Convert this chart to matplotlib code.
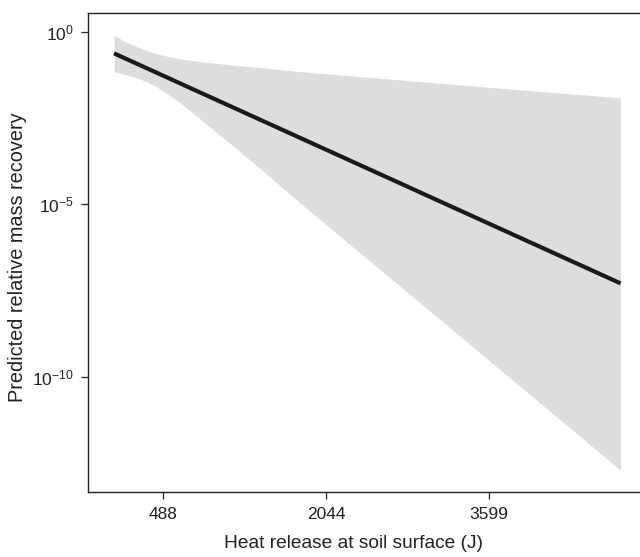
import matplotlib
matplotlib.use("Agg")
import matplotlib.pyplot as plt
import numpy as np
from matplotlib.ticker import FixedLocator, LogFormatterMathtext, NullLocator

plt.rcParams["font.family"] = ["Liberation Sans", "DejaVu Sans"]
plt.rcParams["mathtext.fontset"] = "custom"
plt.rcParams["mathtext.rm"] = "Liberation Sans"
plt.rcParams["mathtext.it"] = "Liberation Sans:italic"

# values (log10 of predicted relative mass recovery)
heat = [17, 100, 200, 280, 360, 440, 520, 600, 680, 840, 1000, 1160, 1480, 1800,
        2080, 2270, 2750, 3710, 4860]
upper_log = [-0.09, -0.24, -0.38, -0.48, -0.57, -0.64, -0.70, -0.75, -0.79, -0.86,
             -0.91, -0.96, -1.05, -1.15, -1.22, -1.27, -1.39, -1.63, -1.91]
lower_log = [-1.15, -1.21, -1.30, -1.38, -1.49, -1.62, -1.78, -1.95, -2.13, -2.52,
             -2.92, -3.32, -4.13, -4.97, -5.68, -6.16, -7.37, -9.80, -12.71]
fit_heat = [17, 4860]
fit_log = [-0.62, -7.29]
xticks = [488, 2044, 3599]
yticks = [1e0, 1e-5, 1e-10]

fig = plt.figure(figsize=(6.4, 5.57), dpi=100)
ax = fig.add_axes([88 / 640, 1 - 492.3 / 557, 1 - 88 / 640, (492.3 - 12.7) / 557])

ax.fill_between(heat, 10 ** np.array(lower_log), 10 ** np.array(upper_log),
                color="#dcdddf", linewidth=0)
ax.plot(fit_heat, 10 ** np.array(fit_log), color="#1a1a1a", lw=3.0,
        solid_capstyle="butt")

ax.set_yscale("log")
ax.set_xlim(-232, 5046)
ax.set_ylim(10 ** -13.35, 10 ** 0.56)
ax.yaxis.set_major_locator(FixedLocator(yticks))
ax.yaxis.set_major_formatter(LogFormatterMathtext())
ax.yaxis.set_minor_locator(NullLocator())
ax.set_xticks(xticks)
ax.set_xticklabels([str(v) for v in xticks])

for s in ["left", "bottom", "top"]:
    ax.spines[s].set_linewidth(1.0)
    ax.spines[s].set_color("#222222")
ax.spines["right"].set_visible(False)
ax.tick_params(direction="out", length=5.3, width=0.9, color="#222222",
               labelsize=12.5, labelcolor="#222222", pad=5)

ax.set_xlabel("Heat release at soil surface (J)", fontsize=13.8, color="#222222")
ax.set_ylabel("Predicted relative mass recovery", fontsize=14.3, color="#222222")
ax.xaxis.set_label_coords((354 - 88) / 552, -0.088)
ax.yaxis.set_label_coords(-0.11, 0.49)

fig.savefig("out.png", dpi=100)
